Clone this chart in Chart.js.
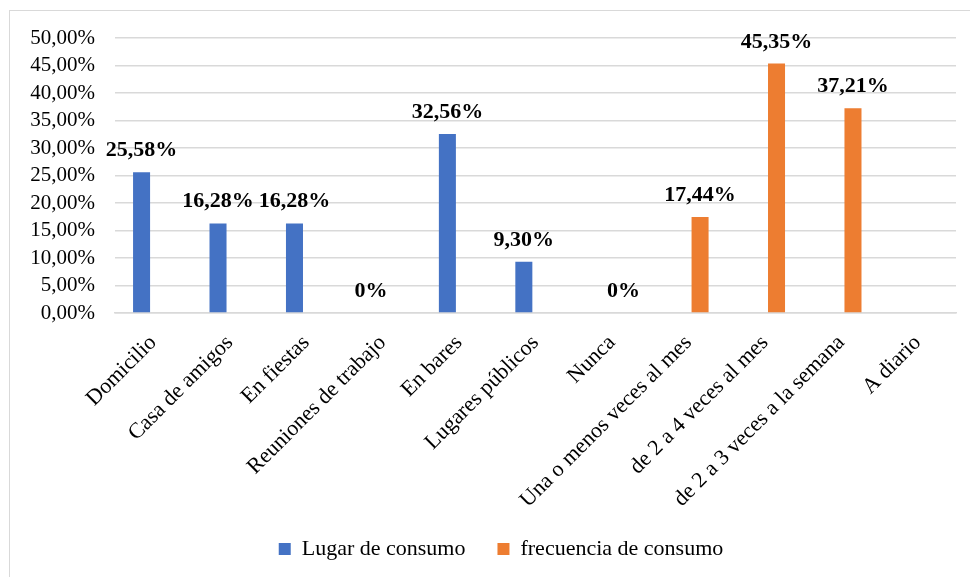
<!DOCTYPE html>
<html lang="es">
<head>
<meta charset="utf-8">
<title>Lugar y frecuencia de consumo</title>
<script src="https://cdn.jsdelivr.net/npm/chart.js@4.4.1/dist/chart.umd.min.js"></script>
<style>
  html, body { margin: 0; padding: 0; background: #fff; }
  #wrap {
    position: relative;
    width: 970px;
    height: 577px;
    overflow: hidden;
  }
  #frame {
    position: absolute;
    left: 9px;
    top: 10px;
    width: 1000px;
    height: 600px;
    border-top: 1.5px solid #d9d9d9;
    border-left: 1.5px solid #d9d9d9;
  }
  canvas { position: absolute; left: 0; top: 0; }
</style>
</head>
<body>
<div id="wrap">
  <div id="frame"></div>
  <canvas id="chart" width="970" height="577"></canvas>
</div>
<script>
const categories = [
  'Domicilio',
  'Casa de amigos',
  'En fiestas',
  'Reuniones de trabajo',
  'En bares',
  'Lugares públicos',
  'Nunca',
  'Una o menos veces al mes',
  'de 2 a 4 veces al mes',
  'de 2 a 3 veces a la semana',
  'A diario'
];

// percentages; null where the category belongs to the other series
const lugarValues = [25.58, 16.28, 16.28, 0, 32.56, 9.30, null, null, null, null, null];
const frecuenciaValues = [null, null, null, null, null, null, 0, 17.44, 45.35, 37.21, null];

const yTicks = [0, 5, 10, 15, 20, 25, 30, 35, 40, 45, 50];

const serif = "'Liberation Serif', 'Times New Roman', serif";
Chart.defaults.font.family = serif;
Chart.defaults.color = '#000';

function pct(v) {
  return v.toFixed(2).replace('.', ',') + '%';
}

// value labels above each bar, "0%" for empty bars
const barLabels = {
  id: 'barLabels',
  afterDatasetsDraw(chart) {
    const ctx = chart.ctx;
    ctx.save();
    ctx.font = 'bold 22px ' + serif;
    ctx.fillStyle = '#000';
    ctx.textAlign = 'center';
    ctx.textBaseline = 'alphabetic';
    chart.data.datasets.forEach((ds, i) => {
      const meta = chart.getDatasetMeta(i);
      meta.data.forEach((bar, j) => {
        const v = ds.data[j];
        if (v === null || v === undefined) return;
        const text = v === 0 ? '0%' : pct(v);
        ctx.fillText(text, bar.x, bar.y - 16);
      });
    });
    ctx.restore();
  }
};

// nudge the legend to the right, it sits under the plot area rather than the canvas
const legendShift = {
  id: 'legendShift',
  afterLayout(chart) {
    if (!chart.legend) return;
    chart.legend.left += 18;
    chart.legend.right += 18;
  }
};

const ctx = document.getElementById('chart').getContext('2d');
new Chart(ctx, {
  type: 'bar',
  data: {
    labels: categories,
    datasets: [
      {
        label: 'Lugar de consumo',
        data: lugarValues,
        backgroundColor: '#4472c4',
        categoryPercentage: 0.61,
        barPercentage: 0.73
      },
      {
        label: 'frecuencia de consumo',
        data: frecuenciaValues,
        backgroundColor: '#ed7d31',
        categoryPercentage: 0.61,
        barPercentage: 0.73
      }
    ]
  },
  options: {
    responsive: false,
    animation: false,
    layout: {
      padding: { left: 10, right: 14, top: 38, bottom: 7 }
    },
    plugins: {
      legend: {
        position: 'bottom',
        labels: {
          color: '#000',
          boxWidth: 12,
          boxHeight: 12,
          padding: 32,
          font: { family: serif, size: 22 }
        }
      },
      tooltip: { enabled: false }
    },
    scales: {
      x: {
        grid: { display: false },
        border: { color: '#d9d9d9', width: 1.5 },
        ticks: {
          color: '#000',
          minRotation: 45,
          maxRotation: 45,
          autoSkip: false,
          padding: 9,
          font: { family: serif, size: 22 }
        },
        afterFit(scale) {
          scale.height = 193;
        }
      },
      y: {
        min: 0,
        max: 50,
        afterBuildTicks(scale) {
          scale.ticks = yTicks.map(v => ({ value: v }));
        },
        grid: { color: '#d9d9d9', lineWidth: 1.5, drawTicks: false },
        border: { display: false },
        ticks: {
          color: '#000',
          padding: 20,
          autoSkip: false,
          font: { family: serif, size: 21 },
          callback: function(value) {
            return pct(value);
          }
        },
        afterFit(scale) {
          scale.width = 105;
        }
      }
    }
  },
  plugins: [barLabels, legendShift]
});
</script>
</body>
</html>
